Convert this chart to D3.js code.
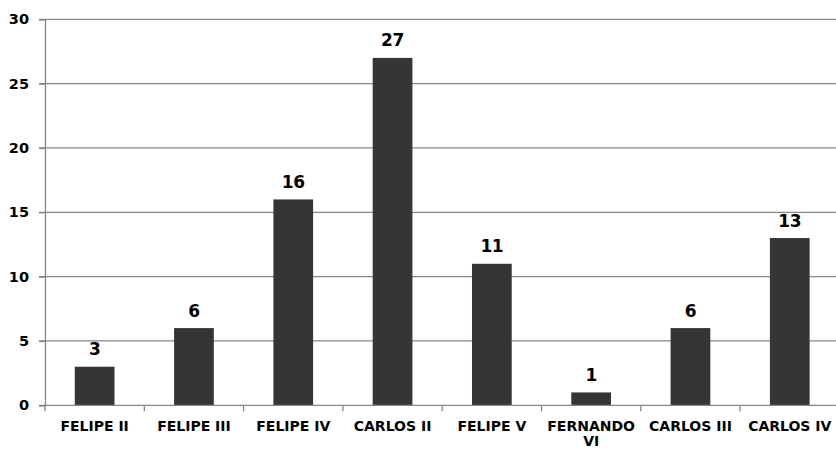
<!DOCTYPE html>
<html><head><meta charset="utf-8">
<script src="https://cdn.jsdelivr.net/npm/d3@7"></script>
<style>body{margin:0;background:#fff}svg{display:block}text{font-family:"DejaVu Sans",Verdana,sans-serif;font-weight:bold;fill:#000}</style>
</head><body>
<svg id="c" width="836" height="450"></svg>
<script>
const categories = ["FELIPE II","FELIPE III","FELIPE IV","CARLOS II","FELIPE V","FERNANDO VI","CARLOS III","CARLOS IV"];
const values = [3,6,16,27,11,1,6,13];
const yTicks = [0,5,10,15,20,25,30];

(function(){
const svg = d3.select("#c");
const mLeft = 45, mRight = 839.4, mTop = 19.3, mBottom = 405.3;
const x = d3.scaleBand().domain(categories).range([mLeft, mRight]).paddingInner(0.6).paddingOuter(0.3);
const y = d3.scaleLinear().domain([0,30]).range([mBottom, mTop]);

// gridlines
svg.append("g").selectAll("line").data(yTicks.filter(d=>d>0)).join("line")
  .attr("x1", mLeft-6).attr("x2", 836).attr("y1", d=>y(d)).attr("y2", d=>y(d))
  .attr("stroke", "#868686").attr("stroke-width", 1.3);

// bars
svg.append("g").selectAll("rect").data(values).join("rect")
  .attr("x", (d,i)=>x(categories[i])).attr("width", x.bandwidth())
  .attr("y", d=>y(d)).attr("height", d=>mBottom - y(d))
  .attr("fill", "#353535");

// y axis
const ya = svg.append("g").attr("transform", `translate(${mLeft},0)`)
  .call(d3.axisLeft(y).tickValues(yTicks).tickSize(6).tickPadding(10));
ya.select(".domain").attr("stroke", "#868686").attr("stroke-width", 1.3);
ya.selectAll(".tick line").attr("stroke", "#868686").attr("stroke-width", 1.3);
ya.selectAll(".tick text").style("font-size", "14.5px").style("font-family", '"DejaVu Sans",Verdana,sans-serif').style("font-weight","bold").attr("fill","#000");

// x axis line + ticks at boundaries
const step = x.step();
const bounds = d3.range(categories.length + 1).map(i => mLeft + i*step);
svg.append("line").attr("x1", mLeft-6).attr("x2", 836).attr("y1", mBottom).attr("y2", mBottom)
  .attr("stroke", "#868686").attr("stroke-width", 1.3);
svg.append("g").selectAll("line").data(bounds).join("line")
  .attr("x1", d=>d).attr("x2", d=>d).attr("y1", mBottom).attr("y2", mBottom+6)
  .attr("stroke", "#868686").attr("stroke-width", 1.3);

// category labels
const labels = svg.append("g").selectAll("text").data(categories).join("text")
  .attr("x", d=>x(d)+x.bandwidth()/2).attr("y", 431)
  .attr("text-anchor","middle").style("font-size","14px");
labels.each(function(d){
  const t = d3.select(this);
  const parts = d === "FERNANDO VI" ? ["FERNANDO","VI"] : [d];
  parts.forEach((p,i)=>{
    t.append("tspan").attr("x", x(d)+x.bandwidth()/2).attr("dy", i===0?0:15.3).text(p);
  });
});

// value labels
svg.append("g").selectAll("text").data(values).join("text")
  .attr("x", (d,i)=>x(categories[i])+x.bandwidth()/2).attr("y", d=>y(d)-11.5)
  .attr("text-anchor","middle").style("font-size","17px").style("letter-spacing","-0.4px").text(d=>d);
})();
</script>
</body></html>
